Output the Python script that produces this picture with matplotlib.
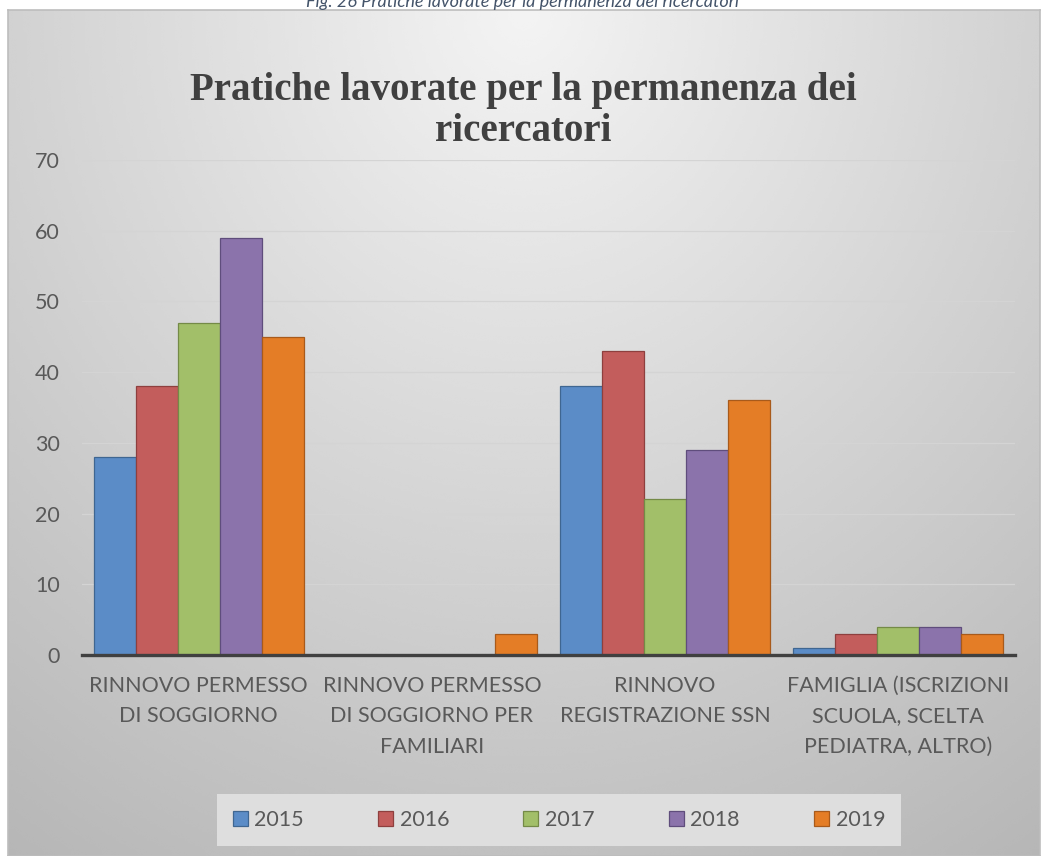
import numpy as np
import matplotlib
matplotlib.use('Agg')
import matplotlib.pyplot as plt

categories = ['RINNOVO PERMESSO\nDI SOGGIORNO',
              'RINNOVO PERMESSO\nDI SOGGIORNO PER\nFAMILIARI',
              'RINNOVO\nREGISTRAZIONE SSN',
              'FAMIGLIA (ISCRIZIONI\nSCUOLA, SCELTA\nPEDIATRA, ALTRO)']
years = ['2015', '2016', '2017', '2018', '2019']
v2015 = [28, 0, 38, 1]
v2016 = [38, 0, 43, 3]
v2017 = [47, 0, 22, 4]
v2018 = [59, 0, 29, 4]
v2019 = [45, 3, 36, 3]
series = [v2015, v2016, v2017, v2018, v2019]

fills = ['#5b8cc7', '#c35d5c', '#a2bf69', '#8b73ab', '#e47d26']
edges = ['#3f6691', '#8e3f3e', '#748a47', '#5f4d7c', '#a85a1b']

W, H = 1046, 856
fig = plt.figure(figsize=(W/100, H/100), dpi=100)
fig.patch.set_facecolor('white')

# gradient background of the chart frame
bg = fig.add_axes([8/W, 0, (1040-8)/W, (856-10)/H])
yy, xx = np.mgrid[0:1:300j, 0:1:300j]
r = np.sqrt(((xx-0.5)/0.75)**2 + (yy/1.0)**2)
grad = np.clip(0.955 - 0.2*r, 0, 1)
bg.imshow(grad, cmap='gray', vmin=0, vmax=1, aspect='auto',
          extent=[0, 1, 1, 0], interpolation='bicubic')
bg.set_xticks([]); bg.set_yticks([])
for s in bg.spines.values():
    s.set_color('#bdbdbd'); s.set_linewidth(1.2)
bg.set_zorder(0)

ax = fig.add_axes([82/W, 1-655/H, (1015-82)/W, (655-160)/H])
ax.set_zorder(1)
ax.patch.set_alpha(0)

x = np.arange(len(categories))
bw = 0.18
for i, vals in enumerate(series):
    ax.bar(x + (i-2)*bw, vals, bw, color=fills[i], edgecolor=edges[i],
           linewidth=0.9, label=years[i], zorder=3)

ax.set_xlim(-0.5, 3.5)
ax.set_ylim(0, 70)
ax.set_yticks(range(0, 71, 10))
ax.yaxis.grid(True, color='#d4d4d4', linewidth=0.9, zorder=0)
ax.set_axisbelow(True)
for s in ['top', 'right', 'left']:
    ax.spines[s].set_visible(False)
ax.spines['bottom'].set_color('#404040')
ax.spines['bottom'].set_linewidth(2.4)
ax.spines['bottom'].set_zorder(4)
ax.tick_params(axis='both', length=0, colors='#595959', labelsize=15.5)
ax.tick_params(axis='y', pad=16)
ax.tick_params(axis='x', pad=15)
ax.set_xticks(x)
ax.set_xticklabels(categories, fontfamily='Lato', linespacing=1.65)
for t in ax.get_yticklabels():
    t.set_fontfamily('Lato')

fig.text(0.5, 1-111/H, 'Pratiche lavorate per la permanenza dei\nricercatori',
         ha='center', va='center', fontsize=28, fontweight='bold',
         fontfamily='Liberation Serif', color='#404040', linespacing=1.17)

fig.text(0.5, 1-2/H, 'Fig. 26 Pratiche lavorate per la permanenza dei ricercatori',
         ha='center', va='center', fontsize=13, fontstyle='italic',
         fontfamily='Lato', color='#44546a')

leg = fig.legend(loc='center', bbox_to_anchor=(559/W, 1-820/H), ncol=5,
                 frameon=True, fancybox=False, facecolor='#dedede',
                 edgecolor='none', framealpha=1, handlelength=0.7,
                 handleheight=0.7, handletextpad=0.3, columnspacing=3.45,
                 borderpad=0.75, prop={'family': 'Lato', 'size': 15.5})
for t in leg.get_texts():
    t.set_color('#595959')

fig.savefig('out.png', dpi=100)
